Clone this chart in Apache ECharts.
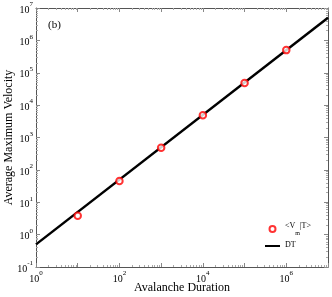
<!DOCTYPE html>
<html><head><meta charset="utf-8">
<script src="https://cdn.jsdelivr.net/npm/echarts@6/dist/echarts.min.js"></script>
<style>html,body{margin:0;padding:0;background:#fff}#c{width:332px;height:297px}</style>
</head><body><div id="c"></div>
<script>
const durations = [10, 100, 1000, 10000, 100000, 1000000];
const velocities = [3.8, 45, 480, 4900, 48000, 500000];
const fitX = [1, 10000000];
const fitY = [0.5, 5000000];
const xMin = 1, xMax = 10000000, yMin = 0.1, yMax = 10000000;

const FONT = 'Liberation Serif';
function expLabel(v, every) {
  const e = Math.round(Math.log10(v));
  if (every === 2 && e % 2 !== 0) return '';
  return '{b|10}{e|' + e + '}';
}
const rich = {
  b: {fontFamily: FONT, fontSize: 10, color: '#000', lineHeight: 14, verticalAlign: 'bottom'},
  e: {fontFamily: FONT, fontSize: 7, color: '#000', lineHeight: 7, verticalAlign: 'top'}
};
const axisCommon = {
  type: 'log', logBase: 10,
  axisLine: {show: true, onZero: false, lineStyle: {color: '#555', width: 1}},
  axisTick: {show: true, inside: true, length: 4, lineStyle: {color: '#888'}},
  minorTick: {show: true, splitNumber: 9, length: 2, lineStyle: {color: '#aaa'}},
  splitLine: {show: false}
};
const chart = echarts.init(document.getElementById('c'));
chart.setOption({
  animation: false,
  backgroundColor: '#fff',
  grid: {left: 36, right: 4, top: 8, bottom: 30, containLabel: false, outerBoundsMode: 'none'},
  xAxis: [
    Object.assign({}, axisCommon, {min: xMin, max: xMax, position: 'bottom',
      name: 'Avalanche Duration', nameLocation: 'middle', nameGap: 15, nameMoveOverlap: false,
      nameTextStyle: {fontFamily: FONT, fontSize: 12, color: '#000'},
      axisLabel: {formatter: v => expLabel(v, 2), rich: rich, margin: 3, showMinLabel: true, showMaxLabel: false}}),
    Object.assign({}, axisCommon, {min: xMin, max: xMax, position: 'top', axisLabel: {show: false}})
  ],
  yAxis: [
    Object.assign({}, axisCommon, {min: yMin, max: yMax, position: 'left',
      name: 'Average Maximum Velocity', nameLocation: 'middle', nameGap: 21, nameMoveOverlap: false,
      nameTextStyle: {fontFamily: FONT, fontSize: 12, color: '#000'},
      axisLabel: {formatter: v => expLabel(v, 1), rich: rich, margin: 3}}),
    Object.assign({}, axisCommon, {min: yMin, max: yMax, position: 'right', axisLabel: {show: false}})
  ],
  legend: {
    orient: 'vertical', left: 260, top: 217, itemGap: 5, itemWidth: 15, itemHeight: 6,
    data: [
      {name: 'Vm', icon: 'emptyCircle', itemStyle: {color: '#f00', borderColor: '#f00', borderWidth: 1.3}},
      {name: 'DT', icon: 'path://M0,0 L0.01,0 M0,2 L15,2 L15,4 L0,4 Z M0,6 L0.01,6', itemStyle: {color: '#000'}}
    ],
    formatter: n => n === 'Vm' ? '{a|<V}{s|m}{a||T>}' : '{a|DT}',
    textStyle: {
      rich: {
        a: {fontFamily: FONT, fontSize: 8, color: '#000', lineHeight: 10, verticalAlign: 'top'},
        s: {fontFamily: FONT, fontSize: 6, color: '#000', lineHeight: 14, verticalAlign: 'bottom'}
      }
    }
  },
  graphic: [{type: 'text', left: 48, top: 20, style: {text: '(b)', fontFamily: FONT, fontSize: 11, fill: '#000'}}],
  series: [
    {name: 'DT', type: 'line', data: fitX.map((x, i) => [x, fitY[i]]), symbol: 'none',
      lineStyle: {color: '#000', width: 2.5}, itemStyle: {color: '#000'}, z: 2},
    {name: 'Vm', type: 'scatter', data: durations.map((x, i) => [x, velocities[i]]),
      symbol: 'emptyCircle', symbolSize: 6.5,
      itemStyle: {color: '#f00', borderColor: '#f00', borderWidth: 1}, z: 3}
  ]
});
</script></body></html>
